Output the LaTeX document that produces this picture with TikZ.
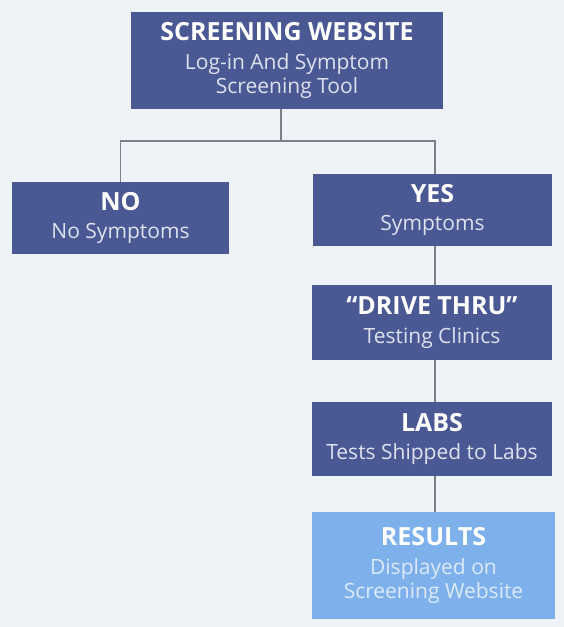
\documentclass[tikz,border=0pt]{standalone}
\usepackage{fontspec}
\setmainfont{Open Sans}
\definecolor{bgc}{HTML}{EEF3F8}
\definecolor{boxc}{HTML}{4A5894}
\definecolor{resc}{HTML}{7EB0EC}
\definecolor{linec}{HTML}{7A7F88}
\definecolor{subc}{HTML}{DDE2EE}
\definecolor{ressub}{HTML}{DCEAFA}
\tikzset{
  box/.style={fill=boxc, draw=none, align=center, inner sep=0pt, text=white,
    font={\fontsize{21}{24.5}\selectfont}},
  resbox/.style={box, fill=resc},
  conn/.style={draw=linec, line width=1.4pt},
}
\newcommand{\ttl}[1]{{\fontsize{25}{28}\selectfont\bfseries #1}}
\begin{document}
\begin{tikzpicture}[x=1pt,y=-1pt]
\useasboundingbox[fill=bgc] (0,0) rectangle (564,627);
\node[box, minimum width=312pt, minimum height=97pt] (top) at (287,60.5)
  {\ttl{SCREENING WEBSITE}\\[4pt]\textcolor{subc}{Log-in And Symptom}\\\textcolor{subc}{Screening Tool}};
\node[box, minimum width=217pt, minimum height=72pt] (no) at (120.5,218)
  {\ttl{NO}\\[4pt]\textcolor{subc}{No Symptoms}};
\node[box, minimum width=239pt, minimum height=72pt] (yes) at (432.5,210)
  {\ttl{YES}\\[4pt]\textcolor{subc}{Symptoms}};
\node[box, minimum width=240pt, minimum height=75pt] (drive) at (432,322.5)
  {\ttl{“DRIVE THRU”}\\[4pt]\textcolor{subc}{Testing Clinics}};
\node[box, minimum width=240pt, minimum height=74pt] (labs) at (432,439)
  {\ttl{LABS}\\[4pt]\textcolor{subc}{Tests Shipped to Labs}};
\node[resbox, minimum width=243pt, minimum height=107pt] (res) at (433.5,565.5)
  {\ttl{RESULTS}\\[4pt]\textcolor{ressub}{Displayed on}\\\textcolor{ressub}{Screening Website}};
\coordinate (jt) at (281,141);
\coordinate (sp) at (435,0);
\draw[conn] (top.south -| jt) -- (jt);
\draw[conn] (no.north) |- (jt) -| (yes.north -| sp);
\draw[conn] (yes.south -| sp) -- (drive.north -| sp);
\draw[conn] (drive.south -| sp) -- (labs.north -| sp);
\draw[conn] (labs.south -| sp) -- (res.north -| sp);
\end{tikzpicture}
\end{document}
